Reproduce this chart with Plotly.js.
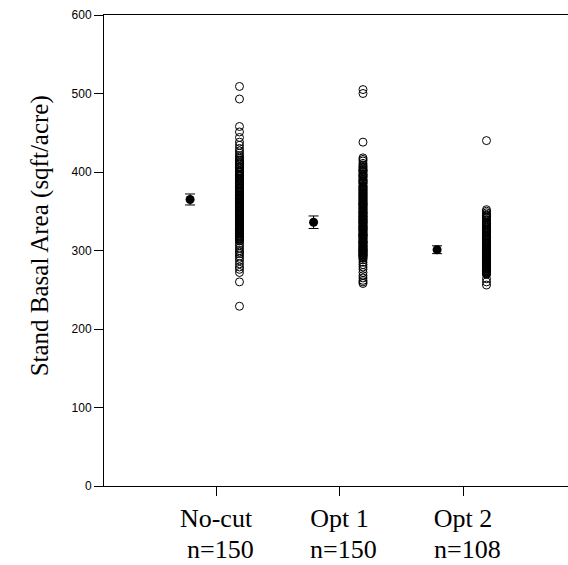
<!DOCTYPE html>
<html>
<head>
<meta charset="utf-8">
<script src="https://cdn.plot.ly/plotly-3.0.1.min.js"></script>
<style>html,body{margin:0;padding:0;background:#fff;}#chart{width:568px;height:565px;}</style>
</head>
<body>
<div id="chart"></div>
<script>
var categories = ["No-cut", "Opt 1", "Opt 2"];
var sampleLabels = ["n=150", "n=150", "n=108"];
var categoryPos = [1, 2, 3];
var meanValues = [365, 336, 301];
var meanErrors = [7, 8, 5];

var noCut = [
  509, 493, 458, 451, 444, 438, 434, 430, 427, 424, 421, 419, 417, 415,
  414, 412, 412, 410, 409, 407, 406, 406, 404, 402, 401, 400,
  399, 397, 397, 395, 394, 392, 391, 390, 389, 388, 386, 385,
  385, 383, 382, 380, 380, 379, 377, 376, 375, 374, 374, 372,
  371, 370, 369, 368, 367, 366, 366, 365, 364, 363, 362, 361,
  360, 360, 358, 357, 356, 355, 355, 354, 352, 351, 350, 350,
  349, 347, 346, 345, 344, 343, 342, 341, 340, 339, 338, 337,
  336, 335, 335, 333, 332, 331, 330, 329, 328, 327, 326, 325,
  324, 323, 322, 321, 320, 319, 318, 317, 316, 315, 314, 313,
  370, 365, 359, 353, 348, 344, 338, 333, 327, 322, 318, 315,
  392, 384, 378, 371, 362, 357, 346, 340, 334, 328, 396, 388,
  312, 309, 306, 303, 300, 298, 296, 293, 290, 287, 283, 279, 276, 272, 260, 229
];

var opt1 = [
  505, 500, 438, 418, 416, 414, 411,
  409, 407, 406, 404, 403, 401, 400, 398, 397, 396, 394, 393,
  391, 390, 389, 387, 386, 385, 383, 382, 381, 379, 378, 377,
  375, 374, 373, 372, 370, 369, 368, 366, 365, 364, 363, 361,
  360, 359, 358, 356, 355, 354, 353, 351, 350, 349, 348, 347,
  345, 344, 343, 342, 341, 340, 338, 337, 336, 335, 334, 333,
  331, 330, 329, 328, 327, 326, 325, 323, 322, 321, 320, 319,
  318, 317, 315, 314, 313, 312, 311, 310, 309, 308, 306, 305,
  304, 303, 302, 301, 300, 299, 298, 297, 296, 295, 294, 292,
  352, 346, 339, 332, 324, 316, 307, 300, 293, 291, 290, 296,
  380, 371, 362, 357, 343, 336, 327, 319, 311, 305, 299, 294,
  402, 395, 388, 376, 367, 359, 348, 339, 330, 320, 310, 302,
  288, 285, 282, 279, 276, 272, 268, 265, 262, 260, 258
];

var opt2 = [
  440, 352, 350,
  348, 346, 345, 343, 341, 339, 337, 335, 333, 331, 329, 327,
  326, 324, 322, 320, 318, 316, 315, 313, 311, 310, 308, 306,
  305, 304, 302, 301, 300, 299, 298, 297, 296, 295, 294, 293,
  292, 291, 290, 289, 288, 287, 286, 285, 284, 283, 282, 281,
  280, 279, 278, 277, 276, 275, 274, 273, 272, 271, 270, 270,
  336, 328, 319, 309, 303, 297, 291, 286, 281, 277, 273, 271,
  342, 332, 323, 314, 307, 300, 294, 289, 284, 279, 274, 272,
  344, 334, 325, 317, 310, 304, 298, 293, 287, 282, 278, 276,
  330, 312, 296, 283, 301, 290,
  264, 260, 256
];

var groups = [noCut, opt1, opt2];
var pointOffset = 0.19;
var meanOffset = -0.21;
var serif = '"Liberation Serif", "Times New Roman", serif';

var traces = [];
groups.forEach(function (vals, i) {
  traces.push({
    type: 'scatter', mode: 'markers',
    x: vals.map(function () { return categoryPos[i] + pointOffset; }),
    y: vals,
    marker: { symbol: 'circle-open', size: 8, color: '#000', line: { width: 1, color: '#000' } },
    hoverinfo: 'y', showlegend: false
  });
});
traces.push({
  type: 'scatter', mode: 'markers',
  x: categoryPos.map(function (c) { return c + meanOffset; }),
  y: meanValues,
  error_y: { type: 'data', array: meanErrors, visible: true, color: '#000', thickness: 1, width: 5 },
  marker: { symbol: 'circle', size: 9, color: '#000' },
  showlegend: false
});

var annotations = [{
  text: 'Stand Basal Area (sqft/acre)',
  xref: 'paper', yref: 'paper',
  x: -64 / 464, y: 0.53,
  xanchor: 'center', yanchor: 'middle',
  textangle: -90, showarrow: false,
  font: { family: serif, size: 25, color: '#000' }
}];
sampleLabels.forEach(function (t, i) {
  annotations.push({
    text: t, xref: 'x', yref: 'paper',
    x: categoryPos[i] + 0.035, y: -63 / 471,
    xanchor: 'center', yanchor: 'middle', showarrow: false,
    font: { family: serif, size: 26, color: '#000' }
  });
});

var layout = {
  width: 568, height: 565,
  margin: { l: 104, r: 0, t: 15, b: 79 },
  paper_bgcolor: '#fff', plot_bgcolor: '#fff',
  showlegend: false,
  xaxis: {
    range: [0.093, 3.85],
    tickvals: categoryPos, ticktext: categories,
    showgrid: false, zeroline: false,
    showline: true, linecolor: '#000', linewidth: 1, mirror: true,
    ticks: 'outside', ticklen: 9, tickcolor: '#000', tickwidth: 1,
    tickfont: { family: serif, size: 26, color: '#000' }
  },
  yaxis: {
    range: [0, 600],
    tickvals: [0, 100, 200, 300, 400, 500, 600],
    showgrid: false, zeroline: false,
    showline: true, linecolor: '#000', linewidth: 1, mirror: false,
    ticks: 'outside', ticklen: 9, tickcolor: '#000', tickwidth: 1,
    tickfont: { family: '"Liberation Sans", Arial, sans-serif', size: 12, color: '#000' }
  },
  annotations: annotations
};

Plotly.newPlot('chart', traces, layout, { displayModeBar: false, staticPlot: true });
</script>
</body>
</html>
